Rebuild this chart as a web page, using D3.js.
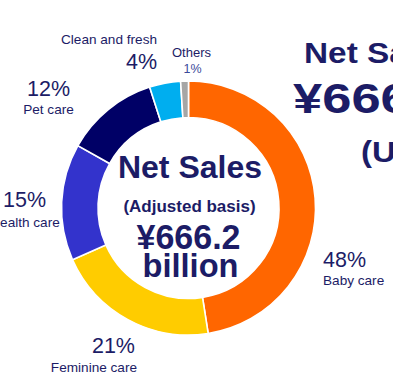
<!DOCTYPE html>
<html>
<head>
<meta charset="utf-8">
<script src="https://cdn.jsdelivr.net/npm/d3@7"></script>
<style>
  html, body { margin: 0; padding: 0; background: #fff; overflow: hidden; }
  svg { display: block; font-family: "Liberation Sans", Arial, sans-serif; }
</style>
</head>
<body>
<svg id="chart" width="393" height="383"></svg>
<script>
// ---- data ----
const categories = ["Baby care", "Feminine care", "Health care", "Pet care", "Clean and fresh", "Others"];
const shares = [48, 21, 15, 12, 4, 1];
const colors = ["#FF6600", "#FFCC00", "#3333CC", "#000066", "#00AEEF", "#A6A6A6"];
const centerLines = ["Net Sales", "(Adjusted basis)", "¥666.2", "billion"];
const sideLines = ["Net Sales", "¥666.2 billion", "(US$6.0 billion)"];

// ---- layout ----
const svg = d3.select("#chart");
const cx = 188.5, cy = 208, outerR = 127, innerR = 90.5;
const textColor = "#1C1C66";

const pie = d3.pie().value(d => d).sort(null).startAngle(0).endAngle(2 * Math.PI);
const arc = d3.arc().innerRadius(innerR).outerRadius(outerR);

const g = svg.append("g").attr("transform", `translate(${cx},${cy})`);
g.selectAll("path")
  .data(pie(shares))
  .join("path")
  .attr("d", arc)
  .attr("fill", (d, i) => colors[i])
  .attr("stroke", "#fff")
  .attr("stroke-width", 1.6);

// label layout (positions per category)
const labelLayout = [
  { anchor: "start",  px: 323,   py: 267, nx: 323,   ny: 285 },
  { anchor: "end",    px: 135,   py: 353, nx: 137,   ny: 372 },
  { anchor: "middle", px: 24.5,  py: 207, nx: 25,    ny: 227 },
  { anchor: "middle", px: 48.5,  py: 96,  nx: 48.5,  ny: 114 },
  { anchor: "end",    px: 157,   py: 69,  nx: 157,   ny: 44 },
  { anchor: "middle", px: 192.5, py: 73,  nx: 191.5, ny: 57 }
];

const labels = svg.append("g");
categories.forEach((c, i) => {
  const L = labelLayout[i];
  const isOther = i === 5;
  labels.append("text")
    .attr("x", L.px).attr("y", L.py)
    .attr("text-anchor", L.anchor)
    .attr("font-size", isOther ? 12.5 : 21.5)
    .attr("fill", isOther ? "#3A4A9A" : textColor)
    .text(shares[i] + "%");
  labels.append("text")
    .attr("x", L.nx).attr("y", L.ny)
    .attr("text-anchor", L.anchor)
    .attr("font-size", isOther ? 13 : 13.6)
    .attr("fill", textColor)
    .text(c);
});

// center text
const ct = svg.append("g").attr("fill", textColor).attr("font-weight", "bold").attr("text-anchor", "middle");
ct.append("text").attr("x", 190).attr("y", 178).attr("font-size", 32).text(centerLines[0]);
ct.append("text").attr("x", 189.5).attr("y", 212).attr("font-size", 17).text(centerLines[1]);
ct.append("text").attr("x", 188.5).attr("y", 249).attr("font-size", 35)
  .attr("textLength", 104).attr("lengthAdjust", "spacingAndGlyphs").text(centerLines[2]);
ct.append("text").attr("x", 190.5).attr("y", 277).attr("font-size", 34)
  .attr("textLength", 96).attr("lengthAdjust", "spacingAndGlyphs").text(centerLines[3]);

// right-hand headline (clipped by the frame)
const st = svg.append("g").attr("fill", textColor).attr("font-weight", "bold");
st.append("text").attr("transform", "translate(304,63) scale(1.15,1)").attr("font-size", 29).text(sideLines[0]);
st.append("text").attr("transform", "translate(293,113) scale(1.25,1)").attr("font-size", 42).text(sideLines[1]);
st.append("text").attr("transform", "translate(361,162) scale(1.1,1)").attr("font-size", 30).text(sideLines[2]);
</script>
</body>
</html>
